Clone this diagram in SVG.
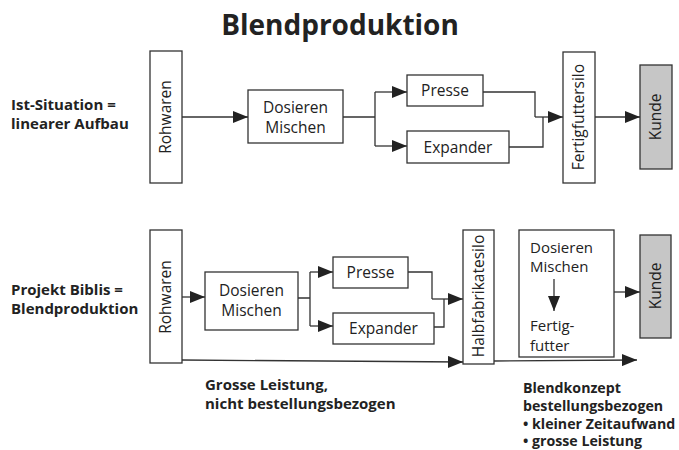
<svg xmlns="http://www.w3.org/2000/svg" width="679" height="450" viewBox="0 0 679 450">
<defs>
<marker id="ah" markerUnits="userSpaceOnUse" markerWidth="16" markerHeight="12" refX="15" refY="6" orient="auto">
<path d="M0,0 L15,6 L0,12 Z" fill="#222"/>
</marker>
<style>
.box{fill:#fff;stroke:#333;stroke-width:1.3}
.gray{fill:#c6c6c6;stroke:#333;stroke-width:1.3}
.t{font-family:"Open Sans","Noto Sans",sans-serif;font-size:15.5px;fill:#222}
.t2{font-family:"Open Sans","Noto Sans",sans-serif;font-size:15px;fill:#222}
.b{font-family:"Open Sans","Noto Sans",sans-serif;font-size:15px;font-weight:bold;fill:#222}
.bs{font-family:"Open Sans","Noto Sans",sans-serif;font-size:14.2px;font-weight:bold;fill:#222}
.c{fill:none;stroke:#333;stroke-width:1.3}
.a{marker-end:url(#ah)}
</style>
</defs>
<rect width="679" height="450" fill="#fff"/>
<text x="340" y="35" text-anchor="middle" font-family="'Open Sans','Noto Sans',sans-serif" font-size="28" font-weight="bold" fill="#222">Blendproduktion</text>
<g id="label-ist">
<text class="b" x="11" y="110">Ist-Situation =</text>
<text class="b" x="11" y="129">linearer Aufbau</text>
</g>
<g id="label-biblis">
<text class="b" x="11" y="295">Projekt Biblis =</text>
<text class="b" x="11" y="314">Blendproduktion</text>
</g>
<g id="label-grosse">
<text class="b" x="205" y="390">Grosse Leistung,</text>
<text class="b" x="205" y="409">nicht bestellungsbezogen</text>
</g>
<g id="label-blend">
<text class="bs" x="523" y="393">Blendkonzept</text>
<text class="bs" x="523" y="411">bestellungsbezogen</text>
<text class="bs" x="523" y="429">• kleiner Zeitaufwand</text>
<text class="bs" x="523" y="446">• grosse Leistung</text>
</g>
<!-- top row -->
<g id="rohwaren1"><rect class="box" x="150" y="51" width="32" height="132"/><text class="t" transform="translate(171,117) rotate(-90)" text-anchor="middle">Rohwaren</text></g>
<g id="dosieren1"><rect class="box" x="248" y="90" width="95" height="53"/><text class="t" x="295.5" y="113" text-anchor="middle">Dosieren</text><text class="t" x="295.5" y="133" text-anchor="middle">Mischen</text></g>
<g id="presse1"><rect class="box" x="407" y="75" width="76" height="31"/><text class="t" x="445" y="96" text-anchor="middle">Presse</text></g>
<g id="expander1"><rect class="box" x="407" y="131" width="102" height="32"/><text class="t" x="458" y="153" text-anchor="middle">Expander</text></g>
<g id="fertigfuttersilo"><rect class="box" x="563" y="52" width="32" height="131"/><text class="t" transform="translate(584,117) rotate(-90)" text-anchor="middle">Fertigfuttersilo</text></g>
<g id="kunde1"><rect class="gray" x="640" y="65" width="32" height="104"/><text class="t" transform="translate(661,117) rotate(-90)" text-anchor="middle">Kunde</text></g>
<!-- bottom row -->
<g id="rohwaren2"><rect class="box" x="150" y="230" width="32" height="133"/><text class="t" transform="translate(171,297) rotate(-90)" text-anchor="middle">Rohwaren</text></g>
<g id="dosieren2"><rect class="box" x="205" y="272" width="93" height="58"/><text class="t" x="251.5" y="296" text-anchor="middle">Dosieren</text><text class="t" x="251.5" y="316" text-anchor="middle">Mischen</text></g>
<g id="presse2"><rect class="box" x="333" y="257" width="75" height="31"/><text class="t" x="370.5" y="278" text-anchor="middle">Presse</text></g>
<g id="expander2"><rect class="box" x="333" y="313" width="101" height="31"/><text class="t" x="383.5" y="334" text-anchor="middle">Expander</text></g>
<g id="halbfabrikatesilo"><rect class="box" x="463" y="230" width="31" height="134"/><text class="t" transform="translate(484,296) rotate(-90)" text-anchor="middle">Halbfabrikatesilo</text></g>
<g id="blendbox"><rect class="box" x="519" y="230" width="95" height="127"/><text class="t2" x="530" y="253">Dosieren</text><text class="t2" x="530" y="272">Mischen</text><text class="t2" x="530" y="331">Fertig-</text><text class="t2" x="530" y="351">futter</text></g>
<g id="kunde2"><rect class="gray" x="640" y="235" width="31" height="103"/><text class="t" transform="translate(661,286) rotate(-90)" text-anchor="middle">Kunde</text></g>
<g id="connectors">
<path class="c a" d="M182,117 H248"/>
<path class="c" d="M343,117 H375 M375,92 V146"/>
<path class="c a" d="M375,92 H407"/>
<path class="c a" d="M375,146 H407"/>
<path class="c" d="M483,92 H535 V117 M509,147 H543 V117"/>
<path class="c a" d="M535,117 H563"/>
<path class="c a" d="M595,117 H640"/>
<path class="c a" d="M182,297 H205"/>
<path class="c" d="M298,298 H310 M310,272 V326"/>
<path class="c a" d="M310,272 H333"/>
<path class="c a" d="M310,326 H333"/>
<path class="c" d="M408,272 H432 V299 M434,327 H444 V299"/>
<path class="c a" d="M432,299 H463"/>
<path class="c a" d="M182,360 L463,362"/>
<path class="c a" d="M494,361 L637,360"/>
<path class="c a" d="M554,279 V311"/>
<path class="c a" d="M614,292 H640"/>
</g>
</svg>
